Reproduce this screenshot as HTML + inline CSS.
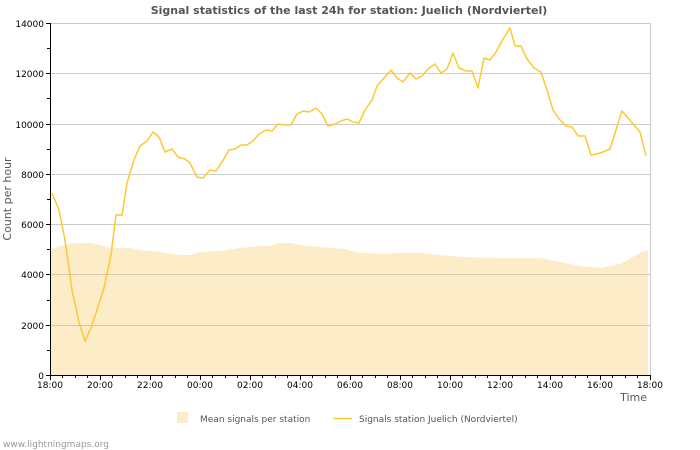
<!DOCTYPE html>
<html><head><meta charset="utf-8"><style>
body{margin:0;background:#fff}
svg{display:block;font-family:"DejaVu Sans","Liberation Sans",sans-serif}
</style></head><body>
<svg width="700" height="450" xmlns="http://www.w3.org/2000/svg">
<rect width="700" height="450" fill="#fff"/>
<text x="349" y="14" text-anchor="middle" font-size="11" font-weight="bold" fill="#555">Signal statistics of the last 24h for station: Juelich (Nordviertel)</text>
<polygon fill="#fdecc8" points="51,375 51,249 60,246 70,244 80,243 90,243 100,245 110,248 130,248 140,250 160,252 180,255 190,255 200,252 220,251 240,248 260,246 270,246 280,243 290,243 300,245 310,246 330,248 345,249 355,252 380,254 400,253 420,253 440,255 460,257 500,258 540,258 560,262 580,266 600,268 620,264 640,253 648,250 648,375"/>
<g stroke="#ccc" stroke-width="1">
<line x1="51" y1="23.5" x2="650" y2="23.5"/><line x1="51" y1="73.5" x2="650" y2="73.5"/>
<line x1="51" y1="124.5" x2="650" y2="124.5"/><line x1="51" y1="174.5" x2="650" y2="174.5"/>
<line x1="51" y1="224.5" x2="650" y2="224.5"/><line x1="51" y1="274.5" x2="650" y2="274.5" stroke="#d6c7a8"/>
<line x1="51" y1="325.5" x2="650" y2="325.5" stroke="#d6c7a8"/>
<line x1="650.5" y1="23" x2="650.5" y2="375"/>
</g>
<g stroke="#000" stroke-width="1">
<line x1="50.5" y1="23" x2="50.5" y2="376"/><line x1="50" y1="375.5" x2="650" y2="375.5"/>
<path d="M46 23.5h4M46 73.5h4M46 124.5h4M46 174.5h4M46 224.5h4M46 274.5h4M46 325.5h4M46 375.5h4M47 48.5h3M47 98.5h3M47 149.5h3M47 199.5h3M47 249.5h3M47 300.5h3M47 350.5h3"/>
<path d="M50.5 375v5M100.5 375v5M150.5 375v5M200.5 375v5M250.5 375v5M300.5 375v5M350.5 375v5M400.5 375v5M450.5 375v5M500.5 375v5M550.5 375v5M600.5 375v5M650.5 375v5"/>
<path d="M62.5 375v3M75.5 375v3M87.5 375v3M112.5 375v3M125.5 375v3M137.5 375v3M162.5 375v3M175.5 375v3M187.5 375v3M212.5 375v3M225.5 375v3M237.5 375v3M262.5 375v3M275.5 375v3M287.5 375v3M312.5 375v3M325.5 375v3M337.5 375v3M362.5 375v3M375.5 375v3M387.5 375v3M412.5 375v3M425.5 375v3M437.5 375v3M462.5 375v3M475.5 375v3M487.5 375v3M512.5 375v3M525.5 375v3M537.5 375v3M562.5 375v3M575.5 375v3M587.5 375v3M612.5 375v3M625.5 375v3M637.5 375v3"/>
</g>
<polyline fill="none" stroke="#fbc934" stroke-width="1.5" stroke-linejoin="round" points="52,193 59,210 65,240 72,290 79,322 85,341 91,328 97,310 104,288 111,255 116,215 122,215 127,183 134,160 140,146 147,141 153,132 159,137 165,152 172,149 178,157 185,159 190,163 197,177 203,178 210,170 216,171 222,162 229,150 235,149 241,145 247,145 253,141 259,134 266,130 272,131 278,124 285,125 291,125 297,114 303,111 309,112 316,108 322,114 328,126 335,124 341,121 347,119 353,122 359,123 365,110 372,100 377,86 384,78 391,70 397,78 403,82 410,73 416,79 422,76 428,69 435,64 441,73 447,69 453,53 459,68 466,71 472,71 478,88 484,58 490,60 496,52 503,39 510,28 515,46 521,46 527,59 534,68 541,72 547,90 553,110 560,120 566,126 572,127 578,136 585,136 591,155 597,154 603,152 610,149 616,130 622,111 628,118 634,125 640,132 646,156"/>
<g font-size="9" fill="#000" text-anchor="end">
<text x="44" y="27">14000</text><text x="44" y="77">12000</text><text x="44" y="128">10000</text>
<text x="44" y="178">8000</text><text x="44" y="228">6000</text><text x="44" y="278">4000</text>
<text x="44" y="329">2000</text><text x="44" y="379">0</text>
</g>
<g font-size="9" fill="#000" text-anchor="middle">
<text x="50" y="388">18:00</text><text x="100" y="388">20:00</text><text x="150" y="388">22:00</text>
<text x="200" y="388">00:00</text><text x="250" y="388">02:00</text><text x="300" y="388">04:00</text>
<text x="350" y="388">06:00</text><text x="400" y="388">08:00</text><text x="450" y="388">10:00</text>
<text x="500" y="388">12:00</text><text x="550" y="388">14:00</text><text x="600" y="388">16:00</text>
<text x="650" y="388">18:00</text>
</g>
<text x="647" y="401" font-size="11" fill="#555" text-anchor="end">Time</text>
<text transform="translate(11,199) rotate(-90)" font-size="11" fill="#555" text-anchor="middle">Count per hour</text>
<rect x="177" y="412" width="11" height="11" fill="#fdecc8"/>
<text x="200" y="422" font-size="9" fill="#555">Mean signals per station</text>
<line x1="333" y1="418.5" x2="352" y2="418.5" stroke="#fbc934" stroke-width="1.5"/>
<text x="359" y="422" font-size="9" fill="#555">Signals station Juelich (Nordviertel)</text>
<text x="3" y="447" font-size="9" fill="#999">www.lightningmaps.org</text>
</svg>
</body></html>
